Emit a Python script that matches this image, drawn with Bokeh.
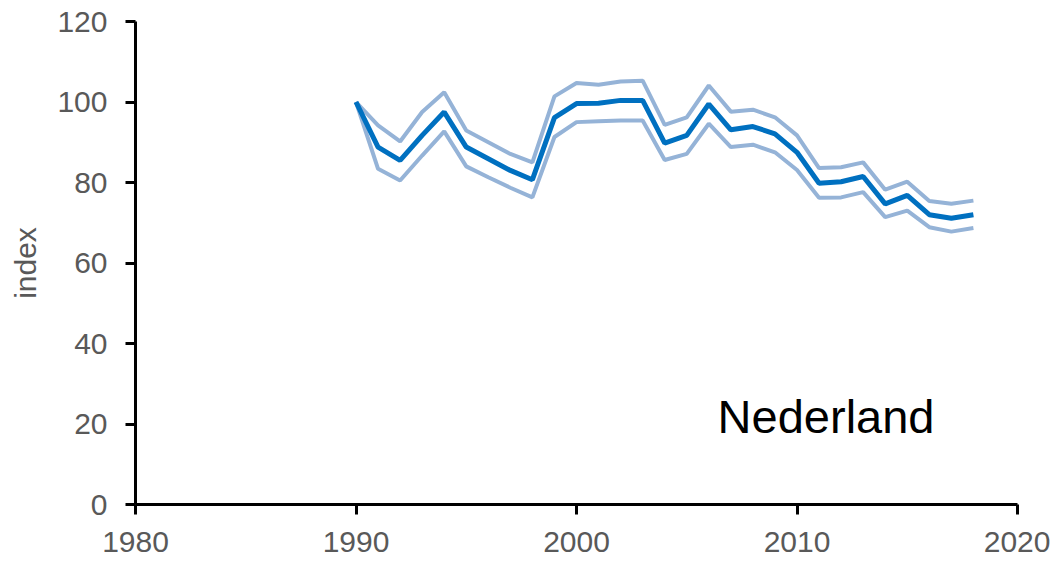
from bokeh.plotting import figure
from bokeh.models import Range1d, FixedTicker
from bokeh.core.properties import value
from bokeh.embed import file_html
from bokeh.resources import INLINE

years = list(range(1990, 2019))
index_mid = [100.0, 88.8, 85.5, 91.7, 97.5, 88.8, 85.9, 83.0, 80.7, 96.1,
             99.6, 99.7, 100.4, 100.4, 89.8, 91.7, 99.5, 93.1, 93.9, 92.1,
             87.5, 79.8, 80.2, 81.5, 74.7, 76.8, 72.0, 71.1, 72.0]
index_upper = [100.0, 94.2, 90.2, 97.5, 102.4, 92.9, 90.0, 87.1, 85.0, 101.4,
               104.7, 104.3, 105.1, 105.3, 94.3, 96.2, 104.1, 97.6, 98.1, 96.2,
               91.7, 83.6, 83.8, 85.0, 78.2, 80.2, 75.4, 74.7, 75.5]
index_lower = [100.0, 83.4, 80.5, 86.7, 92.7, 84.0, 81.3, 78.7, 76.3, 91.3,
               95.0, 95.2, 95.4, 95.4, 85.6, 87.1, 94.6, 88.8, 89.4, 87.5,
               83.1, 76.2, 76.3, 77.6, 71.4, 73.0, 68.9, 67.8, 68.7]
x_ticks = [1980, 1990, 2000, 2010, 2020]
y_ticks = [0, 20, 40, 60, 80, 100, 120]
region_label = "Nederland"

FONT = "Liberation Sans"
GREY = "#595959"

p = figure(width=1050, height=562, output_backend="svg", toolbar_location=None,
           x_range=Range1d(1980, 2020), y_range=Range1d(0, 120),
           min_border_left=135, min_border_right=33, min_border_top=21,
           min_border_bottom=58)
p.outline_line_color = None
p.xgrid.visible = False
p.ygrid.visible = False
p.background_fill_color = "white"
p.border_fill_color = "white"

p.line(years, index_upper, line_color="#95B3D7", line_width=4)
p.line(years, index_lower, line_color="#95B3D7", line_width=4)
p.line(years, index_mid, line_color="#0070C0", line_width=5)

p.text(x=[2006.4], y=[21.8], text=[region_label], text_font=value(FONT),
       text_font_size="47px", text_color="black", text_baseline="alphabetic",
       text_align="left")

for ax, ticks in ((p.xaxis[0], x_ticks), (p.yaxis[0], y_ticks)):
    ax.ticker = FixedTicker(ticks=ticks)
    ax.minor_tick_line_color = None
    ax.major_tick_in = 0
    ax.major_tick_out = 10
    ax.major_tick_line_width = 3
    ax.major_tick_line_color = "black"
    ax.axis_line_width = 3
    ax.axis_line_color = "black"
    ax.major_label_text_font = FONT
    ax.major_label_text_font_size = "30px"
    ax.major_label_text_color = GREY

p.xaxis.major_label_standoff = 17
p.yaxis.major_label_standoff = 18
p.yaxis.axis_label = "index"
p.yaxis.axis_label_text_font = FONT
p.yaxis.axis_label_text_font_size = "30px"
p.yaxis.axis_label_text_font_style = "normal"
p.yaxis.axis_label_text_color = GREY
p.yaxis.axis_label_standoff = 12

open("out.html", "w").write(file_html(p, INLINE))
